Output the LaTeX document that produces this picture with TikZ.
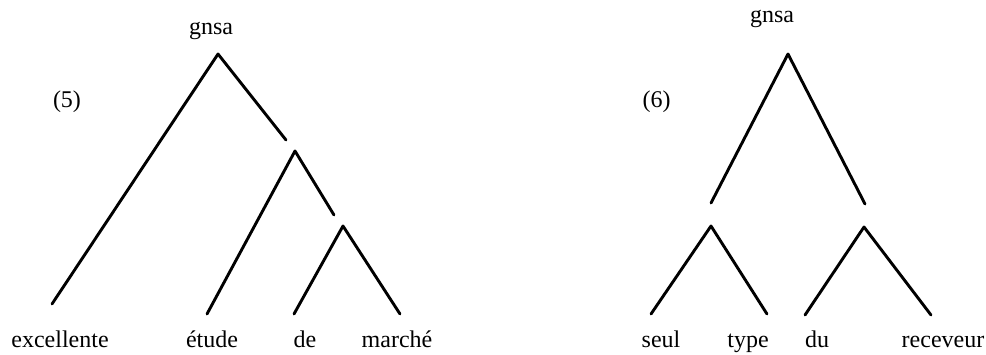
\documentclass[tikz,border=0pt]{standalone}
\usepackage{fontspec}
\setmainfont{Liberation Serif}
\begin{document}
\begin{tikzpicture}[x=0.5pt,y=-0.5pt,
  branch/.style={line width=1.45pt,line cap=round,line join=round},
  word/.style={anchor=base,inner sep=0pt,font=\fontsize{12}{14}\selectfont}]
\useasboundingbox (0,0) rectangle (986,354);
% ---------- tree (5) ----------
\node[word] (g5) at (211,34) {gnsa};
\node[word] (n5) at (67,107) {(5)};
\coordinate (a1) at (218,54);
\coordinate (a1l) at (52,304);
\coordinate (a1r) at (286,140);
\coordinate (a2) at (295,151);
\coordinate (a2l) at (207,314);
\coordinate (a2r) at (334,215);
\coordinate (a3) at (343,226);
\coordinate (a3l) at (294,314);
\coordinate (a3r) at (400,314);
\draw[branch] (a1l) -- (a1) -- (a1r);
\draw[branch] (a2l) -- (a2) -- (a2r);
\draw[branch] (a3l) -- (a3) -- (a3r);
\node[word] (w1) at (60,347) {excellente};
\node[word] (w2) at (212,347) {étude};
\node[word] (w3) at (305,347) {de};
\node[word] (w4) at (397,347) {marché};
% ---------- tree (6) ----------
\node[word] (g6) at (772,22) {gnsa};
\node[word] (n6) at (656.5,107) {(6)};
\coordinate (b1) at (788,54);
\coordinate (b1l) at (711,203);
\coordinate (b1r) at (865,204);
\coordinate (b2) at (711,226);
\coordinate (b2l) at (651,314);
\coordinate (b2r) at (767,314);
\coordinate (b3) at (864,227);
\coordinate (b3l) at (805,315);
\coordinate (b3r) at (931,315);
\draw[branch] (b1l) -- (b1) -- (b1r);
\draw[branch] (b2l) -- (b2) -- (b2r);
\draw[branch] (b3l) -- (b3) -- (b3r);
\node[word] (v1) at (661,347) {seul};
\node[word] (v2) at (748,347) {type};
\node[word] (v3) at (817,347) {du};
\node[word] (v4) at (943,347) {receveur};
\end{tikzpicture}
\end{document}
